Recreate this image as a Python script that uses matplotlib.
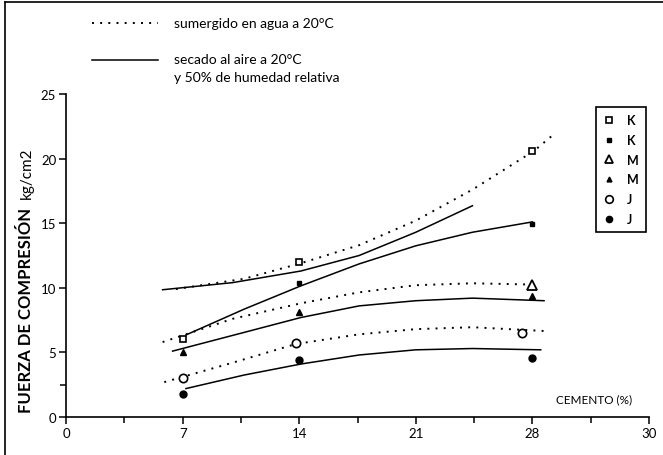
import numpy as np
import matplotlib
matplotlib.use("Agg")
import matplotlib.pyplot as plt
from matplotlib.lines import Line2D

plt.rcParams['font.family'] = ['Lato', 'DejaVu Sans']

# measured points (cemento %, kg/cm2)
cemento = [7, 14, 28]
k_agua = [6.0, 12.0, 20.6]
k_aire = [np.nan, 10.4, 14.9]
m_agua = [np.nan, np.nan, 10.2]
m_aire = [5.0, 8.1, 9.4]
j_agua_x = [7.0, 13.8, 27.4]
j_agua = [3.0, 5.7, 6.5]
j_aire = [1.75, 4.4, 4.6]

# fitted curves
k_agua_cx = [6.6, 10.7, 14.1, 17.6, 21.0, 24.4, 28.1, 29.3]
k_agua_cy = [9.9, 10.7, 11.9, 13.3, 15.2, 17.6, 20.6, 21.9]
k_extra_cx = [5.8, 10.0, 14.1, 17.6, 21.0, 24.4]
k_extra_cy = [9.85, 10.4, 11.3, 12.5, 14.3, 16.35]
k_aire_cx = [7.2, 10.7, 14.1, 17.6, 21.0, 24.4, 28.0]
k_aire_cy = [6.35, 8.35, 10.15, 11.85, 13.25, 14.3, 15.1]
m_agua_cx = [5.8, 10.0, 14.1, 17.6, 21.0, 24.4, 28.0]
m_agua_cy = [5.8, 7.6, 8.8, 9.65, 10.2, 10.35, 10.25]
m_aire_cx = [6.4, 10.7, 14.1, 17.6, 21.0, 24.4, 28.7]
m_aire_cy = [5.1, 6.55, 7.7, 8.6, 9.0, 9.2, 9.0]
j_agua_cx = [5.9, 10.0, 13.8, 17.6, 21.0, 24.4, 28.8]
j_agua_cy = [2.7, 4.2, 5.65, 6.4, 6.8, 6.95, 6.65]
j_aire_cx = [7.2, 10.7, 14.1, 17.6, 21.0, 24.4, 28.5]
j_aire_cy = [2.2, 3.25, 4.1, 4.8, 5.2, 5.3, 5.2]

x_ticks = [0, 7, 14, 21, 28, 35]
x_labels = ['0', '7', '14', '21', '28', '30']
y_ticks = [0, 5, 10, 15, 20, 25]

fig = plt.figure(figsize=(6.63, 4.56), dpi=100)
ax = fig.add_axes([66 / 663, 1 - 418 / 456, (649 - 66) / 663, (418 - 95) / 456])

dot = dict(color='black', linestyle=(0, (1, 3.2)), linewidth=1.4, clip_on=False)
sol = dict(color='black', linestyle='-', linewidth=1.1, clip_on=False)

ax.plot(k_agua_cx, k_agua_cy, **dot)
ax.plot(m_agua_cx, m_agua_cy, **dot)
ax.plot(j_agua_cx, j_agua_cy, **dot)
ax.plot(k_extra_cx, k_extra_cy, **sol)
ax.plot(k_aire_cx, k_aire_cy, **sol)
ax.plot(m_aire_cx, m_aire_cy, **sol)
ax.plot(j_aire_cx, j_aire_cy, **sol)

mk = dict(color='black', linestyle='none', clip_on=False, zorder=5)
ax.plot(cemento, k_agua, marker='s', ms=5, mfc='white', mew=1.2, **mk)
ax.plot(cemento, k_aire, marker='s', ms=3.5, **mk)
ax.plot(cemento, m_agua, marker='^', ms=6.5, mfc='white', mew=1.3, **mk)
ax.plot(cemento, m_aire, marker='^', ms=4, **mk)
ax.plot(j_agua_x, j_agua, marker='o', ms=6, mfc='white', mew=1.2, **mk)
ax.plot(cemento, j_aire, marker='o', ms=5, **mk)

ax.set_xlim(0, 35)
ax.set_ylim(0, 25)
ax.set_xticks(x_ticks)
ax.set_xticklabels(x_labels)
ax.set_xticks(np.arange(3.5, 35, 7), minor=True)
ax.set_yticks(y_ticks)
ax.set_yticks([2.5], minor=True)
ax.tick_params(axis='both', which='major', length=5, width=1.1, labelsize=9.5, pad=2)
ax.tick_params(axis='both', which='minor', length=4, width=1.1)
for s in ['top', 'right']:
    ax.spines[s].set_visible(False)
for s in ['left', 'bottom']:
    ax.spines[s].set_linewidth(1.2)
ax.patch.set_alpha(0)

ax.text(0.905, 0.04, 'CEMENTO (%)', transform=ax.transAxes, ha='center', va='bottom', fontsize=8.5)

# y label: bold part + units, on a common baseline
fig.text(31 / 663, 1 - 413 / 456, 'FUERZA DE COMPRESIÓN', rotation=90, rotation_mode='anchor',
         ha='left', va='baseline', fontsize=12, fontweight='bold')
fig.text(31 / 663, 1 - 199 / 456, 'kg/cm2', rotation=90, rotation_mode='anchor',
         ha='left', va='baseline', fontsize=11)

# condition legend (top)
fig.add_artist(Line2D([92 / 663, 158 / 663], [1 - 24 / 456] * 2, color='black',
                      linestyle=(0, (1, 3.2)), linewidth=1.4))
fig.add_artist(Line2D([92 / 663, 158 / 663], [1 - 61 / 456] * 2, color='black', linewidth=1.1))
fig.text(174 / 663, 1 - 24 / 456, 'sumergido en agua a 20°C', va='center', fontsize=10)
fig.text(174 / 663, 1 - 60 / 456, 'secado al aire a 20°C', va='center', fontsize=10)
fig.text(174 / 663, 1 - 78 / 456, 'y 50% de humedad relativa', va='center', fontsize=10)

# marker legend (right)
handles = [
    Line2D([], [], color='black', ls='none', marker='s', ms=4.5, mfc='white', mew=1.2),
    Line2D([], [], color='black', ls='none', marker='s', ms=3),
    Line2D([], [], color='black', ls='none', marker='^', ms=6, mfc='white', mew=1.3),
    Line2D([], [], color='black', ls='none', marker='^', ms=3.5),
    Line2D([], [], color='black', ls='none', marker='o', ms=5.5, mfc='white', mew=1.2),
    Line2D([], [], color='black', ls='none', marker='o', ms=4.5),
]
leg = fig.legend(handles, ['K', 'K', 'M', 'M', 'J', 'J'], loc='upper left',
                 bbox_to_anchor=(590 / 663, 1 - 102 / 456), fancybox=False, edgecolor='black',
                 framealpha=1, handlelength=1.0, handletextpad=0.9, labelspacing=0.62,
                 borderpad=0.55, prop={'weight': 'bold', 'size': 9})
leg.get_frame().set_linewidth(1.2)

# scan frame
fig.add_artist(Line2D([5 / 663, 5 / 663], [0, 1 - 3 / 456], color='black', linewidth=1.2))
fig.add_artist(Line2D([5 / 663, 1], [1 - 3 / 456] * 2, color='black', linewidth=1.2))

fig.savefig('out.png', dpi=100)
